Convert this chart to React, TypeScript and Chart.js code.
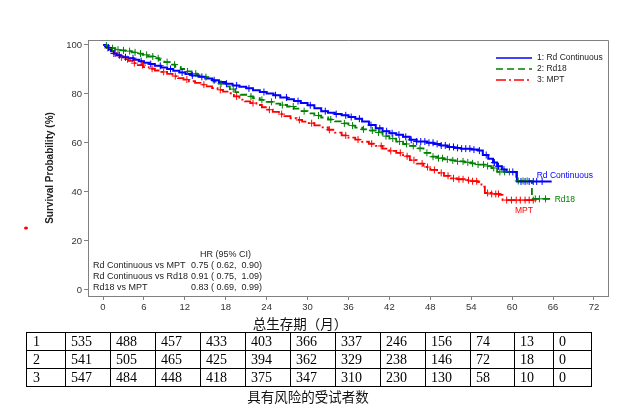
import React, { useEffect, useRef } from "react";
import { Chart, registerables } from "chart.js";
Chart.register(...registerables);

const seriesLabels = ["1: Rd Continuous", "2: Rd18", "3: MPT"];
const endLabels = ["Rd Continuous", "Rd18", "MPT"];
const colors = ["#0000ff", "#008000", "#ff0000"];
const dashes = [[], [7, 4], [10, 3, 2, 3]];

const xTickValues = [0, 6, 12, 18, 24, 30, 36, 42, 48, 54, 60, 66, 72];
const yTickValues = [0, 20, 40, 60, 80, 100];

// Rd Continuous KM steps
const rdcTimes = [0, 0.3, 0.6, 0.9, 1.2, 1.6, 2.0, 2.5, 3.0, 3.7, 4.5, 5.3, 6.0, 6.8, 7.6, 8.5, 9.4, 10.3, 11.2, 12.1, 13.0, 14.0, 15.0, 16.0, 17.0, 18.0, 19.0, 20.0, 21.0, 22.0, 23.0, 24.0, 25.0, 26.0, 27.0, 28.0, 29.0, 30.0, 31.0, 32.0, 33.0, 34.0, 35.0, 36.0, 37.0, 38.0, 39.0, 40.0, 41.0, 42.0, 43.0, 44.0, 45.0, 46.0, 47.5, 48.5, 49.5, 50.5, 51.5, 52.5, 54.0, 55.0, 55.7, 56.5, 57.2, 57.8, 58.5, 59.2, 60.7, 65.8];
const rdcSurv = [100, 99.6, 99, 98.2, 97.4, 96.5, 95.8, 95.3, 95.0, 94.6, 94.0, 93.4, 92.8, 92.2, 91.5, 90.8, 90.2, 89.5, 88.8, 88.2, 87.6, 87.0, 86.3, 85.6, 84.9, 84.2, 83.5, 83.0, 82.3, 81.5, 80.8, 80.2, 79.5, 78.6, 77.9, 77.1, 76.3, 75.4, 74.2, 73.0, 72.3, 71.8, 71.3, 70.6, 69.9, 68.8, 67.3, 66.0, 64.8, 64.0, 63.4, 62.5, 61.3, 60.6, 60.1, 59.6, 59.0, 58.4, 58.0, 57.7, 57.3, 56.9, 55.1, 53.6, 52.0, 50.5, 49.2, 48.2, 44.3, 44.3];
const rdcCensor = [0.8, 1.6, 2.4, 3.3, 4.4, 5.6, 7.0, 8.4, 9.9, 11.6, 13.1, 14.5, 16.3, 18.1, 19.6, 21.4, 23.6, 25.3, 26.9, 28.6, 30.4, 32.6, 34.2, 35.6, 36.4, 37.6, 39.3, 40.6, 41.6, 42.4, 43.4, 44.4, 45.2, 46.0, 46.6, 47.2, 47.8, 48.4, 49.0, 49.6, 50.2, 50.8, 51.4, 52.0, 52.6, 53.2, 53.8, 54.4, 55.2, 56.2, 57.4, 58.0, 58.8, 60.1, 61.3, 61.9, 62.5, 63.1, 63.6, 64.4];

// Rd18 KM steps
const rd18Times = [0, 0.3, 0.7, 1.2, 1.8, 2.5, 3.3, 4.2, 5.0, 5.8, 6.6, 7.4, 8.2, 9.0, 9.8, 10.6, 11.4, 12.2, 13.0, 13.8, 14.6, 15.4, 16.2, 17.0, 17.8, 18.6, 19.4, 20.2, 21.0, 22.0, 23.0, 24.0, 25.0, 26.0, 27.0, 28.0, 29.0, 30.0, 31.0, 32.0, 33.0, 34.0, 35.0, 36.0, 37.0, 38.0, 39.0, 40.0, 41.0, 42.0, 43.0, 44.0, 45.0, 46.0, 47.0, 48.0, 49.0, 50.0, 51.0, 52.0, 53.0, 54.0, 55.0, 56.0, 57.0, 57.8, 60.6, 62.9, 65.8];
const rd18Surv = [100, 99.8, 99.3, 98.7, 98.1, 97.8, 97.5, 97.0, 96.5, 96.0, 95.3, 94.6, 93.9, 93.0, 92.0, 91.1, 90.2, 89.2, 88.3, 87.6, 86.9, 86.0, 85.1, 84.2, 83.1, 82.0, 80.8, 79.7, 79.0, 78.3, 77.6, 76.8, 76.1, 75.5, 74.9, 74.0, 73.0, 72.1, 71.2, 70.4, 69.6, 68.8, 68.0, 67.1, 66.3, 65.6, 65.1, 64.3, 62.8, 61.8, 60.6, 59.6, 58.8, 57.8, 56.0, 54.4, 53.8, 53.3, 52.9, 52.5, 52.1, 51.7, 51.2, 50.6, 49.8, 48.2, 44.5, 37.2, 37.2];
const rd18Censor = [0.5, 1.4, 2.2, 3.0, 3.9, 4.7, 5.5, 6.4, 7.3, 8.1, 9.4, 10.5, 12.4, 13.6, 15.1, 17.3, 19.1, 21.7, 23.3, 24.7, 26.3, 27.9, 29.5, 31.6, 33.4, 35.4, 36.6, 38.2, 39.5, 40.4, 41.5, 42.5, 43.5, 44.5, 45.5, 46.5, 47.5, 48.4, 49.2, 49.8, 50.5, 51.3, 52.0, 52.8, 53.5, 54.2, 55.0, 55.8, 56.4, 57.3, 58.2, 58.9, 59.6, 60.9, 61.6, 62.2, 63.4, 64.0, 64.9];

// MPT KM steps
const mptTimes = [0, 0.3, 0.6, 1.0, 1.4, 1.9, 2.5, 3.1, 3.7, 4.4, 5.1, 5.9, 6.7, 7.6, 8.6, 9.4, 10.2, 11.0, 11.8, 12.6, 13.5, 14.3, 15.2, 16.0, 16.8, 17.6, 18.4, 19.2, 20.0, 20.8, 21.6, 22.5, 23.3, 24.1, 24.9, 25.8, 26.6, 27.5, 28.4, 29.2, 30.0, 31.0, 32.0, 33.0, 34.0, 35.0, 36.0, 37.0, 38.0, 39.0, 40.0, 41.0, 42.0, 43.0, 44.0, 45.0, 46.0, 47.0, 48.0, 49.0, 50.0, 51.0, 52.0, 53.0, 54.0, 55.0, 55.5, 56.0, 57.0, 58.2, 58.6, 63.5];
const mptSurv = [100, 99.5, 98.8, 97.6, 96.6, 95.8, 95.0, 94.2, 93.5, 92.6, 91.8, 91.0, 90.3, 89.6, 89.0, 88.2, 87.3, 86.5, 85.9, 85.2, 84.5, 83.8, 83.1, 82.4, 81.7, 81.0, 80.3, 79.0, 77.7, 77.0, 76.3, 75.5, 74.6, 73.6, 72.7, 71.8, 71.0, 70.1, 69.4, 68.7, 68.1, 67.2, 66.4, 65.4, 64.2, 63.1, 62.2, 61.4, 60.5, 59.7, 58.8, 57.7, 56.8, 56.0, 54.6, 53.0, 51.6, 50.2, 49.0, 47.8, 46.6, 45.6, 45.2, 44.8, 44.4, 44.0, 42.2, 39.6, 39.2, 38.8, 36.7, 36.7];
const mptCensor = [0.7, 1.8, 2.7, 3.6, 4.6, 5.8, 7.2, 8.9, 10.6, 12.3, 14.8, 17.2, 19.6, 22.0, 24.4, 26.2, 28.8, 30.6, 33.2, 35.6, 37.4, 39.4, 40.8, 42.2, 43.6, 44.6, 45.6, 46.8, 47.6, 48.6, 49.6, 50.6, 51.4, 52.2, 52.8, 53.6, 54.2, 54.8, 56.4, 57.0, 57.6, 58.0, 59.2, 59.9, 60.6, 61.2, 61.9, 62.5, 63.1];

const hrHeader = "HR (95% CI)";
const hrComparisons = ["Rd Continuous vs MPT", "Rd Continuous vs Rd18", "Rd18 vs MPT"];
const hrValues = ["0.75 ( 0.62,  0.90)", "0.91 ( 0.75,  1.09)", "0.83 ( 0.69,  0.99)"];

const yAxisTitle = "Survival Probability (%)";
const xAxisTitle = "总生存期（月）";
const tableCaption = "具有风险的受试者数";
const riskGroups = ["1", "2", "3"];
const riskRd = [535, 488, 457, 433, 403, 366, 337, 246, 156, 74, 13, 0];
const riskRd18 = [541, 505, 465, 425, 394, 362, 329, 238, 146, 72, 18, 0];
const riskMpt = [547, 484, 448, 418, 375, 347, 310, 230, 130, 58, 10, 0];

const allTimes = [rdcTimes, rd18Times, mptTimes];
const allSurv = [rdcSurv, rd18Surv, mptSurv];
const allCensor = [rdcCensor, rd18Censor, mptCensor];
const allRisk = [riskRd, riskRd18, riskMpt];

function stepLookup(times: number[], surv: number[], t: number) {
  let v = surv[0];
  for (let i = 0; i < times.length; i++) {
    if (times[i] <= t) v = surv[i];
  }
  return v;
}

const SANS = "'Liberation Sans', Arial, sans-serif";

const overlayPlugin = {
  id: "overlay",
  afterDraw(chart: any) {
    const ctx = chart.ctx;
    const { left, right, top, bottom } = chart.chartArea;
    ctx.save();
    ctx.strokeStyle = "#808080";
    ctx.lineWidth = 1;
    ctx.beginPath();
    ctx.moveTo(left, top + 0.5);
    ctx.lineTo(right + 0.5, top + 0.5);
    ctx.lineTo(right + 0.5, bottom);
    ctx.stroke();

    ctx.font = `8.5px ${SANS}`;
    ctx.textBaseline = "middle";
    for (let i = 0; i < 3; i++) {
      const y = top + 18 + i * 11;
      ctx.strokeStyle = colors[i];
      ctx.lineWidth = 1.6;
      ctx.setLineDash(dashes[i]);
      ctx.beginPath();
      ctx.moveTo(right - 112, y);
      ctx.lineTo(right - 76, y);
      ctx.stroke();
      ctx.setLineDash([]);
      ctx.fillStyle = "#222";
      ctx.textAlign = "left";
      ctx.fillText(seriesLabels[i], right - 71, y);
    }

    const xs = chart.scales.x;
    const ys = chart.scales.y;
    const offs = [
      { dx: -15, dy: -5.5, align: "left" },
      { dx: 3, dy: 1, align: "left" },
      { dx: -12, dy: 11, align: "center" },
    ];
    ctx.font = `8.5px ${SANS}`;
    for (let i = 0; i < 3; i++) {
      const t = allTimes[i][allTimes[i].length - 1];
      const s = allSurv[i][allSurv[i].length - 1];
      const px = xs.getPixelForValue(t);
      const py = ys.getPixelForValue(s);
      ctx.fillStyle = colors[i];
      ctx.textAlign = offs[i].align;
      ctx.fillText(endLabels[i], px + offs[i].dx, py + offs[i].dy);
    }

    ctx.fillStyle = "#222";
    ctx.font = `9px ${SANS}`;
    ctx.textAlign = "left";
    ctx.fillText(hrHeader, left + 112, bottom - 41);
    for (let i = 0; i < 3; i++) {
      const y = bottom - 30 + i * 11;
      ctx.fillText(hrComparisons[i], left + 5, y);
      ctx.fillText(hrValues[i], left + 103, y);
    }

    ctx.fillStyle = "#ff0000";
    ctx.beginPath();
    ctx.ellipse(26, 228, 2, 1.5, 0, 0, Math.PI * 2);
    ctx.fill();
    ctx.restore();
  },
};

function KMChart() {
  const ref = useRef<HTMLCanvasElement>(null);
  useEffect(() => {
    if (!ref.current) return;
    const lineSets = [0, 1, 2].map((i) => ({
      label: seriesLabels[i],
      data: allTimes[i].map((t, j) => ({ x: t, y: allSurv[i][j] })),
      borderColor: colors[i],
      backgroundColor: colors[i],
      borderWidth: i === 0 ? 2 : 1.8,
      borderDash: dashes[i],
      stepped: true as const,
      pointRadius: 0,
      fill: false,
      showLine: true,
      order: 2,
    }));
    const censorSets = [0, 1, 2].map((i) => ({
      label: seriesLabels[i] + " censored",
      data: allCensor[i].map((t) => ({ x: t, y: stepLookup(allTimes[i], allSurv[i], t) })),
      borderColor: colors[i],
      backgroundColor: colors[i],
      pointStyle: "cross" as const,
      pointRadius: 3.5,
      pointBorderWidth: 1,
      showLine: false,
      order: 1,
    }));
    const chart = new Chart(ref.current, {
      type: "scatter",
      data: { datasets: [...lineSets, ...censorSets] as any },
      options: {
        animation: false,
        responsive: false,
        devicePixelRatio: 1,
        layout: { padding: { left: 0, right: 29, top: 40, bottom: 0 } },
        plugins: { legend: { display: false }, tooltip: { enabled: false } },
        scales: {
          x: {
            type: "linear",
            min: -2.2,
            max: 74.06,
            afterBuildTicks: (s: any) => {
              s.ticks = xTickValues.map((v) => ({ value: v }));
            },
            afterFit: (s: any) => {
              s.height = 24;
            },
            grid: { drawOnChartArea: false, drawTicks: true, tickLength: 4, color: "#808080" },
            border: { display: true, color: "#808080", width: 1 },
            ticks: { color: "#333", font: { family: SANS, size: 9.5 }, padding: 2, maxRotation: 0, autoSkip: false },
          },
          y: {
            type: "linear",
            min: -2.45,
            max: 102.04,
            afterBuildTicks: (s: any) => {
              s.ticks = yTickValues.map((v) => ({ value: v }));
            },
            afterFit: (s: any) => {
              s.width = 88;
            },
            grid: { drawOnChartArea: false, drawTicks: true, tickLength: 4, color: "#808080" },
            border: { display: true, color: "#808080", width: 1 },
            ticks: { color: "#333", font: { family: SANS, size: 9.5 }, padding: 2, autoSkip: false },
            title: {
              display: true,
              text: yAxisTitle,
              color: "#222",
              font: { family: SANS, size: 10, weight: "bold" },
              padding: { top: 44, bottom: 0 },
            },
          },
        },
      },
      plugins: [overlayPlugin],
    });
    return () => chart.destroy();
  }, []);
  return <canvas ref={ref} width={637} height={320} style={{ position: "absolute", left: 0, top: 0 }} />;
}

const colWidths = [39, 45, 45, 45, 45, 45, 45, 45, 45, 45, 44, 39, 38];

export default function App() {
  const cell: React.CSSProperties = {
    border: "1px solid #000",
    padding: "0 0 0 5px",
    height: 17,
    textAlign: "left",
    fontFamily: "'Liberation Serif', 'Times New Roman', serif",
    fontSize: 14,
    lineHeight: "17px",
    color: "#000",
  };
  const cjk: React.CSSProperties = {
    position: "absolute",
    fontFamily: "'Noto Sans CJK SC', sans-serif",
    fontSize: 13.5,
    lineHeight: "16px",
    color: "#111",
    whiteSpace: "nowrap",
    textAlign: "center",
  };
  return (
    <div style={{ position: "fixed", left: 0, top: 0, width: 637, height: 407, background: "#fff", overflow: "hidden" }}>
      <KMChart />
      <div style={{ ...cjk, left: 200, width: 200, top: 315 }}>{xAxisTitle}</div>
      <table
        style={{
          position: "absolute",
          left: 26,
          top: 332,
          borderCollapse: "collapse",
          tableLayout: "fixed",
          width: colWidths.reduce((a, b) => a + b, 0),
        }}
      >
        <colgroup>
          {colWidths.map((w, i) => (
            <col key={i} style={{ width: w }} />
          ))}
        </colgroup>
        <tbody>
          {riskGroups.map((g, r) => (
            <tr key={g}>
              <td style={{ ...cell, paddingLeft: 6 }}>{g}</td>
              {allRisk[r].map((v, c) => (
                <td key={c} style={cell}>{v}</td>
              ))}
            </tr>
          ))}
        </tbody>
      </table>
      <div style={{ ...cjk, left: 208, width: 200, top: 388 }}>{tableCaption}</div>
    </div>
  );
}
